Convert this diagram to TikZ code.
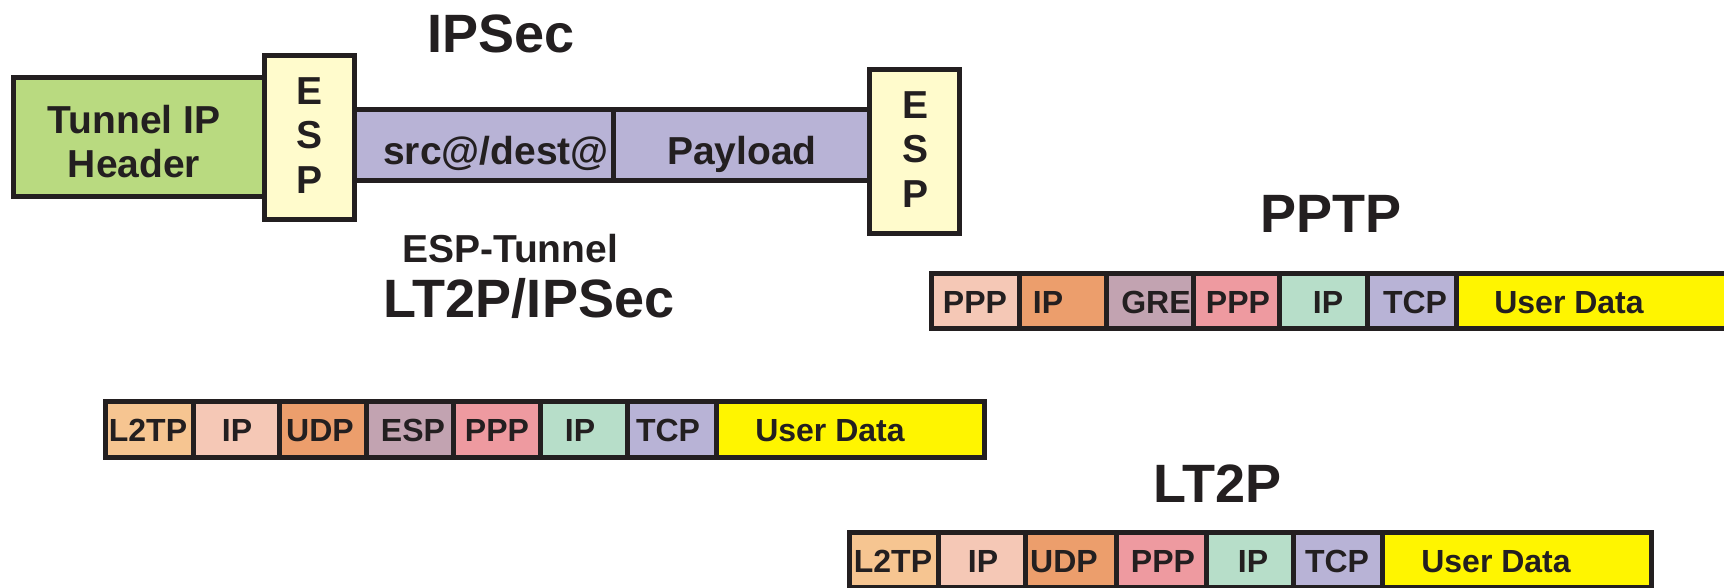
\documentclass[tikz,border=0pt]{standalone}
\usepackage{fontspec}
\setmainfont{Liberation Sans}

\definecolor{ink}{HTML}{231F20}
\definecolor{hdrgreen}{HTML}{B9DA80}
\definecolor{espyellow}{HTML}{FFFBCC}
\definecolor{lavender}{HTML}{B8B3D6}
\definecolor{l2tporange}{HTML}{F6C591}
\definecolor{peach}{HTML}{F5C8B6}
\definecolor{orange}{HTML}{EC9E6C}
\definecolor{mauve}{HTML}{C2A3B1}
\definecolor{pink}{HTML}{EE9AA0}
\definecolor{mint}{HTML}{B7DEC9}
\definecolor{datayellow}{HTML}{FFF500}

% one rectangular field: name, left, right, vertical centre, height, fill
\newcommand\pktcell[6]{%
  \node[box, fill=#6, minimum width={(#3)-(#2)}, minimum height={#5}]
    (#1) at ({((#2)+(#3))/2}, #4) {};}

\begin{document}
\begin{tikzpicture}[x=1pt, y=-1pt,
  box/.style={draw=ink, line width=5pt, rectangle, inner sep=0pt, outer sep=0pt},
  celltxt/.style={anchor=base, inner sep=0pt, text=ink,
    font=\fontsize{32}{34}\selectfont\bfseries},
  bigtxt/.style={anchor=base, inner sep=0pt, text=ink,
    font=\fontsize{39}{43}\selectfont\bfseries},
  title/.style={anchor=base, inner sep=0pt, text=ink,
    font=\fontsize{54}{58}\selectfont\bfseries},
  subtitle/.style={anchor=base, inner sep=0pt, text=ink,
    font=\fontsize{39}{42}\selectfont\bfseries}]
\useasboundingbox (0,0) rectangle (1724,587);

% ---------------- IPSec tunnel-mode packet ----------------
\pktcell{tip}{13.5}{264.5}{137}{119}{hdrgreen}
\pktcell{espL}{264.5}{354.5}{137.5}{164}{espyellow}
\pktcell{src}{354.5}{613}{145}{71}{lavender}
\pktcell{pay}{613}{869.5}{145}{71}{lavender}
\pktcell{espR}{869.5}{959.5}{151.5}{164}{espyellow}

\node[bigtxt] (tipA) at (134,133) {Tunnel IP};
\node[bigtxt] (tipB) at (134,177) {Header};
\node[bigtxt] (espLe) at (310,104) {E};
\node[bigtxt] (espLs) at (310,148) {S};
\node[bigtxt] (espLp) at (310,193) {P};
\node[bigtxt] (espRe) at (915,118) {E};
\node[bigtxt] (espRs) at (915,162) {S};
\node[bigtxt] (espRp) at (915,207) {P};
\node[bigtxt] (srcT) at (496,164) {src@/dest@};
\node[bigtxt] (payT) at (742,164) {Payload};

\node[title] (tIPSec) at (501,52) {IPSec};
\node[subtitle] (tEspTun) at (510,262) {ESP-Tunnel};
\node[title] (tL2tpIpsec) at (529,317) {LT2P/IPSec};
\node[title] (tPptp) at (1331,232) {PPTP};
\node[title] (tL2tp) at (1217,502) {LT2P};

% ---------------- PPTP stack ----------------
\pktcell{p1}{931.5}{1019}{301}{55}{peach}
\pktcell{p2}{1019}{1106}{301}{55}{orange}
\pktcell{p3}{1106}{1193}{301}{55}{mauve}
\pktcell{p4}{1193}{1279}{301}{55}{pink}
\pktcell{p5}{1279}{1367}{301}{55}{mint}
\pktcell{p6}{1367}{1456}{301}{55}{lavender}
\pktcell{p7}{1456}{1727}{301}{55}{datayellow}
\node[celltxt] (p1t) at (975,313) {PPP};
\node[celltxt] (p2t) at (1048,313) {IP};
\node[celltxt] (p3t) at (1156,313) {GRE};
\node[celltxt] (p4t) at (1238,313) {PPP};
\node[celltxt] (p5t) at (1328,313) {IP};
\node[celltxt] (p6t) at (1415,313) {TCP};
\node[celltxt] (p7t) at (1569,313) {User Data};

% ---------------- L2TP over IPSec stack ----------------
\pktcell{a1}{105.5}{193}{429.5}{56}{l2tporange}
\pktcell{a2}{193}{279}{429.5}{56}{peach}
\pktcell{a3}{279}{366}{429.5}{56}{orange}
\pktcell{a4}{366}{453}{429.5}{56}{mauve}
\pktcell{a5}{453}{540}{429.5}{56}{pink}
\pktcell{a6}{540}{627}{429.5}{56}{mint}
\pktcell{a7}{627}{716}{429.5}{56}{lavender}
\pktcell{a8}{716}{984.5}{429.5}{56}{datayellow}
\node[celltxt] (a1t) at (148,441) {L2TP};
\node[celltxt] (a2t) at (237,441) {IP};
\node[celltxt] (a3t) at (320,441) {UDP};
\node[celltxt] (a4t) at (413,441) {ESP};
\node[celltxt] (a5t) at (497,441) {PPP};
\node[celltxt] (a6t) at (580,441) {IP};
\node[celltxt] (a7t) at (668,441) {TCP};
\node[celltxt] (a8t) at (830,441) {User Data};

% ---------------- L2TP stack ----------------
\pktcell{b1}{849.5}{938}{560}{55}{l2tporange}
\pktcell{b2}{938}{1025}{560}{55}{peach}
\pktcell{b3}{1025}{1116}{560}{55}{orange}
\pktcell{b4}{1116}{1206}{560}{55}{pink}
\pktcell{b5}{1206}{1293}{560}{55}{mint}
\pktcell{b6}{1293}{1382}{560}{55}{lavender}
\pktcell{b7}{1382}{1651.5}{560}{55}{datayellow}
\node[celltxt] (b1t) at (893,572) {L2TP};
\node[celltxt] (b2t) at (983,572) {IP};
\node[celltxt] (b3t) at (1064,572) {UDP};
\node[celltxt] (b4t) at (1163,572) {PPP};
\node[celltxt] (b5t) at (1253,572) {IP};
\node[celltxt] (b6t) at (1337,572) {TCP};
\node[celltxt] (b7t) at (1496,572) {User Data};
\end{tikzpicture}
\end{document}
